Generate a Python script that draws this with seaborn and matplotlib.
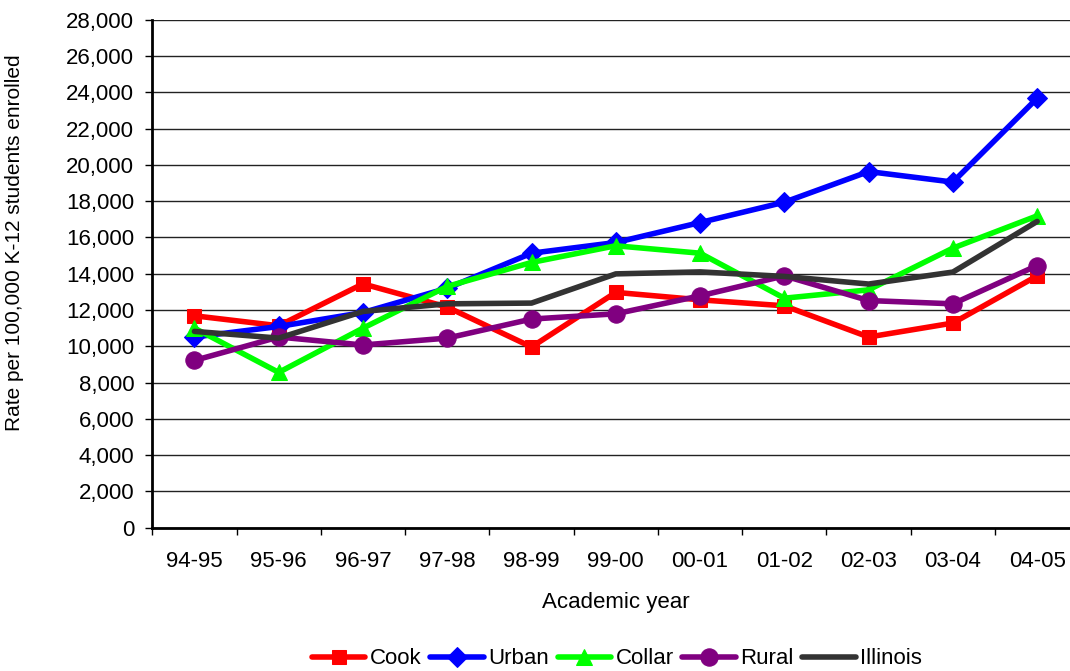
import pandas as pd
import seaborn as sns
import matplotlib.pyplot as plt
from matplotlib.ticker import FuncFormatter, FixedLocator

# 데이터
years = ['94-95', '95-96', '96-97', '97-98', '98-99', '99-00',
         '00-01', '01-02', '02-03', '03-04', '04-05']
cook = [11680, 11130, 13440, 12160, 9960, 12970, 12560, 12230, 10510, 11280, 13880]
urban = [10510, 11090, 11860, 13200, 15130, 15720, 16820, 17940, 19630, 19050, 23670]
collar = [11000, 8560, 11000, 13300, 14620, 15540, 15130, 12650, 13110, 15410, 17190]
rural = [9220, 10510, 10070, 10450, 11500, 11790, 12780, 13880, 12520, 12340, 14450]
illinois = [10820, 10450, 11920, 12340, 12380, 13990, 14100, 13850, 13430, 14090, 16880]

regions = ['Cook', 'Urban', 'Collar', 'Rural', 'Illinois']
colors = ['#FF0000', '#0000FF', '#00FF00', '#800080', '#333333']
markers = ['s', 'D', '^', 'o', None]
msizes = [10.5, 10, 12, 12.5, 0]

df = pd.DataFrame({'year': years * 5,
                   'rate': cook + urban + collar + rural + illinois,
                   'region': sum([[r] * len(years) for r in regions], [])})

sns.set_style('white')
plt.rcParams['font.family'] = ['Liberation Sans', 'DejaVu Sans']
plt.rcParams.update({'text.color': 'black', 'axes.labelcolor': 'black',
                     'xtick.color': 'black', 'ytick.color': 'black'})
FS = 16

fig = plt.figure(figsize=(10.7, 6.71), dpi=100)
ax = fig.add_axes([152.3 / 1070, 1 - 527.7 / 671, 927 / 1070, (527.7 - 19.7) / 671])

for r, c, m, ms in zip(regions, colors, markers, msizes):
    sub = df[df['region'] == r]
    sns.lineplot(data=sub, x='year', y='rate', color=c, marker=m, markersize=ms,
                 markeredgecolor=c, linewidth=4, label=r, ax=ax, sort=False)

ax.set_xlim(-0.5, len(years) - 0.5)
ax.set_ylim(0, 28000)
ax.set_yticks(range(0, 28001, 2000))
ax.yaxis.set_major_formatter(FuncFormatter(lambda v, p: f'{int(v):,}'))
ax.grid(axis='y', color='#222222', linewidth=1)
ax.set_axisbelow(True)

ax.set_xticks(range(len(years)))
ax.set_xticklabels(years)
ax.xaxis.set_minor_locator(FixedLocator([i - 0.5 for i in range(len(years) + 1)]))
ax.tick_params(axis='x', which='major', length=0, pad=17, labelsize=FS)
ax.tick_params(axis='x', which='minor', length=5, width=1, direction='out', bottom=True)
ax.tick_params(axis='y', length=5, width=1, direction='out', left=True, pad=8, labelsize=FS)

for s in ['top', 'right']:
    ax.spines[s].set_visible(False)
ax.spines['left'].set_linewidth(2)
ax.spines['bottom'].set_linewidth(2)
ax.spines['left'].set_color('black')
ax.spines['bottom'].set_color('black')

ax.set_xlabel('Academic year', fontsize=FS, labelpad=14)
ax.set_ylabel('Rate per 100,000 K-12 students enrolled', fontsize=15)
ax.yaxis.set_label_coords(24 / 1070, 1 - 243 / 671, transform=fig.transFigure)

ax.legend_.remove()
handles, labels = ax.get_legend_handles_labels()
fig.legend(handles, labels, loc='center', bbox_to_anchor=(617 / 1070, 1 - 659 / 671),
           ncol=5, frameon=False, fontsize=FS, handlelength=2.4, handletextpad=0.2,
           columnspacing=0.4)

fig.savefig('out.png', dpi=100)
